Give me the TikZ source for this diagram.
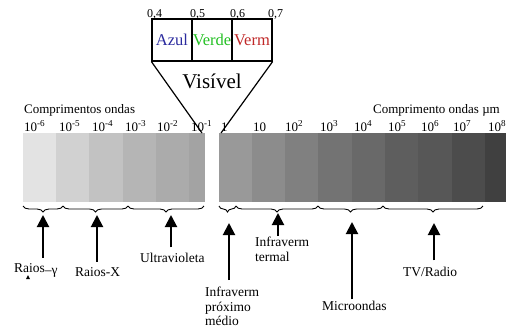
\documentclass[tikz,border=0pt]{standalone}
\usepackage{fontspec}
\setmainfont{Liberation Serif}
\usepackage{xcolor}
\usetikzlibrary{arrows.meta, decorations.pathreplacing}

\definecolor{azulc}{HTML}{2B2B9E}
\definecolor{verdec}{HTML}{22C022}
\definecolor{vermc}{HTML}{C02828}

\tikzset{
  lbl/.style={font=\fontsize{13.5}{14.5}\selectfont, inner sep=0pt, align=left},
  tick/.style={font=\fontsize{13}{14}\selectfont, inner sep=0pt, anchor=base west},
  small/.style={font=\fontsize{12}{13}\selectfont, inner sep=0pt, anchor=base west},
  cell/.style={draw, line width=1.2pt, minimum width=40pt, minimum height=42pt,
    inner sep=0pt, font=\fontsize{16.5}{17}\selectfont},
  arr/.style={-{Triangle[length=12pt,width=12pt]}, line width=2pt},
  brc/.style={decorate, decoration={brace, mirror, amplitude=6pt}, line width=0.9pt},
}

\begin{document}
\begin{tikzpicture}[x=1pt, y=-1pt]
  \useasboundingbox (0,0) rectangle (506,333);
  % ---- Top: visible band ----
  \node[cell, text=azulc] (azul) at (172,40) {Azul};
  \node[cell, text=verdec] (verde) at (212,40) {Verde};
  \node[cell, text=vermc] (verm) at (252,40) {Verm};
  \node[small] (v4) at (147,17) {0,4};
  \node[small] (v5) at (190,17) {0,5};
  \node[small] (v6) at (230,17) {0,6};
  \node[small] (v7) at (268,17) {0,7};
  \node[inner sep=0pt, font=\fontsize{21}{22}\selectfont] (vis) at (212,81) {Visível};
  \coordinate (fl) at (202,133);
  \coordinate (fr) at (221,133);

  % ---- Middle: spectrum bars ----
  \fill[black!11] (23,133) rectangle (56,202);
  \fill[black!18] (56,133) rectangle (89,202);
  \fill[black!24] (89,133) rectangle (123,202);
  \fill[black!29] (123,133) rectangle (156,202);
  \fill[black!33] (156,133) rectangle (189,202);
  \fill[black!36] (189,133) rectangle (205,202);
  \fill[black!40] (219,133) rectangle (252,202);
  \fill[black!45] (252,133) rectangle (285,202);
  \fill[black!50] (285,133) rectangle (318,202);
  \fill[black!55] (318,133) rectangle (352,202);
  \fill[black!59] (352,133) rectangle (385,202);
  \fill[black!63] (385,133) rectangle (418,202);
  \fill[black!66] (418,133) rectangle (452,202);
  \fill[black!70] (452,133) rectangle (485,202);
  \fill[black!75] (485,133) rectangle (506,202);

  \node[tick] (hl) at (24,113) {Comprimentos ondas};
  \node[tick] (hr) at (373,113) {Comprimento ondas µm};
  \node[tick] (p1) at (24,131) {10\textsuperscript{-6}};
  \node[tick] (p2) at (59,131) {10\textsuperscript{-5}};
  \node[tick] (p3) at (92,131) {10\textsuperscript{-4}};
  \node[tick] (p4) at (125,131) {10\textsuperscript{-3}};
  \node[tick] (p5) at (157,131) {10\textsuperscript{-2}};
  \node[tick] (p6) at (191,131) {10\textsuperscript{-1}};
  \node[tick] (p7) at (221,131) {1};
  \node[tick] (p8) at (253,131) {10};
  \node[tick] (p9) at (285,131) {10\textsuperscript{2}};
  \node[tick] (p10) at (320,131) {10\textsuperscript{3}};
  \node[tick] (p11) at (354,131) {10\textsuperscript{4}};
  \node[tick] (p12) at (388,131) {10\textsuperscript{5}};
  \node[tick] (p13) at (421,131) {10\textsuperscript{6}};
  \node[tick] (p14) at (453,131) {10\textsuperscript{7}};
  \node[tick] (p15) at (488,131) {10\textsuperscript{8}};

  \draw[line width=1.2pt] (azul.south west) -- (fl);
  \draw[line width=1.2pt] (verm.south east) -- (fr);

  % ---- Bottom: braces and bands ----
  \draw[brc] (23,206) -- (63,206);
  \draw[brc] (63,206) -- (128,206);
  \draw[brc] (128,206) -- (204,206);
  \draw[brc] (219,206) -- (236,206);
  \draw[brc] (236,206) -- (318,206);
  \draw[brc] (318,206) -- (383,206);
  \draw[brc] (383,206) -- (483,206);

  \coordinate (tipG) at (43,215);
  \coordinate (tipX) at (97,215);
  \coordinate (tipU) at (171,215);
  \coordinate (tipP) at (229,223);
  \coordinate (tipT) at (278,213);
  \coordinate (tipM) at (352,222);
  \coordinate (tipR) at (434,223);

  \node[lbl, anchor=base west] (gam) at (14,272) {Raios\raisebox{-2pt}{–γ}};
  \node[lbl, anchor=base west] (rx) at (75,276) {Raios-X};
  \node[lbl, anchor=base west] (uv) at (140,262) {Ultravioleta};
  \node[lbl, anchor=north west] (prox) at (205,287) {Infraverm\\próximo\\médio};
  \node[lbl, anchor=north west] (term) at (255,237) {Infraverm\\termal};
  \node[lbl, anchor=base west] (micro) at (322,310) {Microondas};
  \node[lbl, anchor=base west] (tv) at (403,276) {TV/Radio};
  \fill (26,279) -- (30,279) -- (28,275) -- cycle;

  \draw[arr] (gam.north -| tipG) ++(0,-5) -- (tipG);
  \draw[arr] (rx.north -| tipX) ++(0,-5) -- (tipX);
  \draw[arr] (uv.north -| tipU) ++(0,-5) -- (tipU);
  \draw[arr] (prox.north -| tipP) ++(0,-7) -- (tipP);
  \draw[arr] (term.north -| tipT) ++(0,-1) -- (tipT);
  \draw[arr] (micro.north -| tipM) ++(0,-1) -- (tipM);
  \draw[arr] (tv.north -| tipR) ++(0,-6) -- (tipR);
\end{tikzpicture}
\end{document}
